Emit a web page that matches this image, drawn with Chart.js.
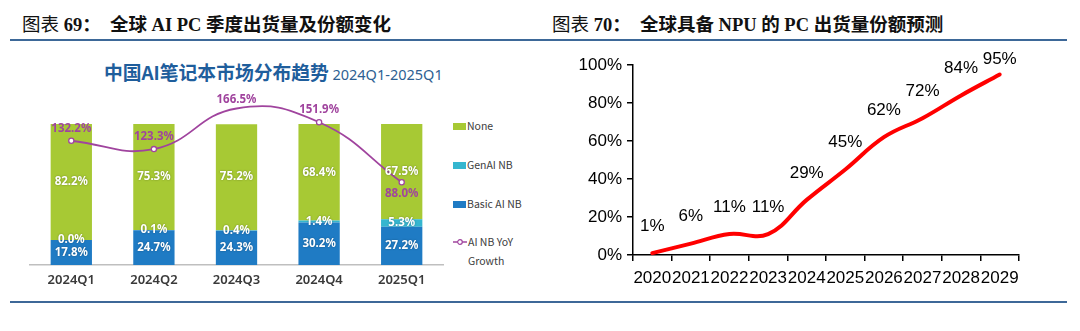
<!DOCTYPE html>
<html>
<head>
<meta charset="utf-8">
<script src="https://cdn.jsdelivr.net/npm/chart.js@4.4.1/dist/chart.umd.min.js"></script>
<style>
  html, body { margin:0; padding:0; background:#fff; }
  body { width:1080px; height:331px; position:relative; overflow:hidden; font-family:"Noto Sans CJK SC","Noto Sans",sans-serif; }
  .hdr { position:absolute; top:10px; font-size:18.5px; color:#111; white-space:nowrap; font-family:"Liberation Serif","Noto Sans CJK SC",serif; font-weight:bold; }
  .hdr .cj { font-family:"Noto Sans CJK SC",sans-serif; }
  .hdr .lt { font-weight:normal; }
  .rule { position:absolute; height:2px; background:#3d6898; left:10px; width:1057px; }
  .ttl { position:absolute; left:104px; top:58px; white-space:nowrap; color:#1f5e9c; }
  .ttl b { font-family:"Noto Sans CJK SC",sans-serif; font-size:18.8px; font-weight:bold; }
  .ttl span { font-family:"Noto Sans","Noto Sans CJK SC",sans-serif; font-size:14.5px; color:#2e5f92; }
  .lg { position:absolute; left:453px; font-size:10.5px; color:#404040; font-family:"Noto Sans CJK SC","Noto Sans",sans-serif; line-height:19px; }
  .lg i { display:inline-block; width:13px; height:7px; margin-right:1px; vertical-align:middle; position:relative; top:-1px; }
  canvas { position:absolute; }
</style>
</head>
<body>
<div class="hdr" style="left:22px;"><span class="cj lt">图表</span> 69<span class="cj">：</span> &nbsp;<span class="cj">全球</span> AI PC <span class="cj">季度出货量及份额变化</span></div>
<div class="hdr" style="left:552px;"><span class="cj lt">图表</span> 70<span class="cj">：</span> &nbsp;<span class="cj">全球具备</span> NPU <span class="cj">的</span> PC <span class="cj">出货量份额预测</span></div>
<div class="rule" style="top:39px;"></div>
<div class="rule" style="top:301px;"></div>
<div class="ttl"><b>中国AI笔记本市场分布趋势</b> <span>2024Q1-2025Q1</span></div>

<div class="lg" style="top:116px;"><i style="background:#a7c934"></i>None</div>
<div class="lg" style="top:155px;"><i style="background:#35b6cf"></i>GenAI NB</div>
<div class="lg" style="top:194px;"><i style="background:#1f7bc4"></i>Basic AI NB</div>
<div class="lg" style="top:232px;"><svg width="14" height="8" style="vertical-align:middle;position:relative;top:-1px;margin-right:1px"><line x1="0" y1="4" x2="14" y2="4" stroke="#a0449e" stroke-width="1.5"/><circle cx="7" cy="4" r="2.3" fill="#fff" stroke="#a0449e" stroke-width="1.2"/></svg>AI NB YoY<br><span style="padding-left:15px">Growth</span></div>

<canvas id="c1" width="540" height="331" style="left:0;top:0;width:540px;height:331px;"></canvas>
<canvas id="c2" width="540" height="331" style="left:540px;top:0;width:540px;height:331px;"></canvas>

<script>
// ---- Left chart data ----
const quarters = ['2024Q1','2024Q2','2024Q3','2024Q4','2025Q1'];
const basicAI = [17.8, 24.7, 24.3, 30.2, 27.2];
const genAI   = [0.0, 0.1, 0.4, 1.4, 5.3];
const noneNB  = [82.2, 75.3, 75.2, 68.4, 67.5];
const yoyGrowth = [132.2, 123.3, 166.5, 151.9, 88.0];

// ---- Right chart data ----
const years = ['2020','2021','2022','2023','2024','2025','2026','2027','2028','2029'];
const npuShare = [1, 6, 11, 11, 29, 45, 62, 72, 84, 95];
const shareTicks = [0, 20, 40, 60, 80, 100];

const barLabelPlugin = {
  id: 'barLabels',
  afterDatasetsDraw(chart) {
    const ctx = chart.ctx;
    ctx.save();
    ctx.textAlign = 'center';
    ctx.textBaseline = 'middle';
    chart.data.datasets.forEach((ds, di) => {
      const meta = chart.getDatasetMeta(di);
      if (ds.type === 'line') {
        ctx.font = 'bold 11.5px "Noto Sans", sans-serif';
        ctx.fillStyle = '#a0449e';
        meta.data.forEach((pt, i) => {
          const below = i === meta.data.length - 1;
          const y = below ? pt.y + 11 : Math.max(pt.y - 12, 100);
          ctx.fillText(ds.data[i].toFixed(1) + '%', pt.x, y);
        });
      } else {
        ctx.font = 'bold 11.5px "Noto Sans", sans-serif';
        ctx.fillStyle = '#ffffff';
        ctx.shadowColor = 'rgba(0,0,0,0.35)';
        ctx.shadowBlur = 2;
        meta.data.forEach((el, i) => {
          const y = (el.y + el.base) / 2;
          ctx.fillText(ds.data[i].toFixed(1) + '%', el.x, y);
        });
        ctx.shadowBlur = 0;
        ctx.shadowColor = 'transparent';
      }
    });
    ctx.restore();
  }
};

new Chart(document.getElementById('c1'), {
  type: 'bar',
  data: {
    labels: quarters,
    datasets: [
      { type:'line', label:'AI NB YoY Growth', data: yoyGrowth, yAxisID:'y2', borderColor:'#a0449e', borderWidth:1.8, tension:0.45, pointRadius:2.6, pointBackgroundColor:'#fff', pointBorderColor:'#a0449e', pointBorderWidth:1.3, clip:false, order:0 },
      { label:'Basic AI NB', data: basicAI, backgroundColor:'#1f7bc4', stack:'s', order:1 },
      { label:'GenAI NB', data: genAI, backgroundColor:'#35b6cf', stack:'s', order:1 },
      { label:'None', data: noneNB, backgroundColor:'#a7c934', stack:'s', order:1 }
    ]
  },
  options: {
    responsive:false, animation:false,
    layout:{ padding:{ left:30, right:97, top:124, bottom:42 } },
    plugins:{ legend:{display:false}, tooltip:{enabled:false} },
    datasets:{ bar:{ barPercentage:0.5, categoryPercentage:1 } },
    scales:{
      x:{ stacked:true, grid:{display:false, drawTicks:false}, border:{display:true, color:'#bfbfbf', width:1.5},
          ticks:{ color:'#3a3a3a', font:{ family:'"Noto Sans", sans-serif', size:13, weight:'600' }, padding:7 },
          afterFit:(s)=>{ s.height = 24; } },
      y:{ stacked:true, display:false, min:0, max:100 },
      y2:{ display:false, min:0, max:150 }
    }
  },
  plugins:[barLabelPlugin]
});

const lineLabelPlugin = {
  id:'lineLabels',
  afterDatasetsDraw(chart) {
    const ctx = chart.ctx;
    const meta = chart.getDatasetMeta(0);
    ctx.save();
    ctx.font = '17px "Liberation Sans", Arial, sans-serif';
    ctx.fillStyle = '#000';
    ctx.textAlign = 'center';
    ctx.textBaseline = 'middle';
    meta.data.forEach((pt, i) => {
      const y = Math.max(pt.y - 27, 59);
      ctx.fillText(npuShare[i] + '%', pt.x, y);
    });
    ctx.restore();
  }
};

new Chart(document.getElementById('c2'), {
  type:'line',
  data:{ labels: years, datasets:[{ data: npuShare, borderColor:'#ff0000', borderWidth:4, tension:0.4, pointRadius:0, clip:false, borderCapStyle:'round' }] },
  options:{
    responsive:false, animation:false,
    layout:{ padding:{ left:33, right:61, top:65, bottom:36 } },
    plugins:{ legend:{display:false}, tooltip:{enabled:false} },
    scales:{
      x:{ offset:true, grid:{ offset:true, drawOnChartArea:false, color:'#000', lineWidth:1.5, tickLength:6 },
          border:{ display:true, color:'#000', width:1.5 },
          ticks:{ autoSkip:false, maxRotation:0, color:'#000', font:{ family:'"Liberation Sans", Arial, sans-serif', size:17 }, padding:7 },
          afterFit:(s)=>{ s.height = 40; } },
      y:{ min:0, max:100, afterBuildTicks:(s)=>{ s.ticks = shareTicks.map(v=>({value:v})); },
          grid:{ drawOnChartArea:false, color:'#000', lineWidth:1.5, tickLength:6 },
          border:{ display:true, color:'#000', width:1.5 },
          ticks:{ color:'#000', font:{ family:'"Liberation Sans", Arial, sans-serif', size:17 }, padding:5, callback:(v)=>v+'%' },
          afterFit:(s)=>{ s.width = 60; } }
    }
  },
  plugins:[lineLabelPlugin]
});
</script>
</body>
</html>
